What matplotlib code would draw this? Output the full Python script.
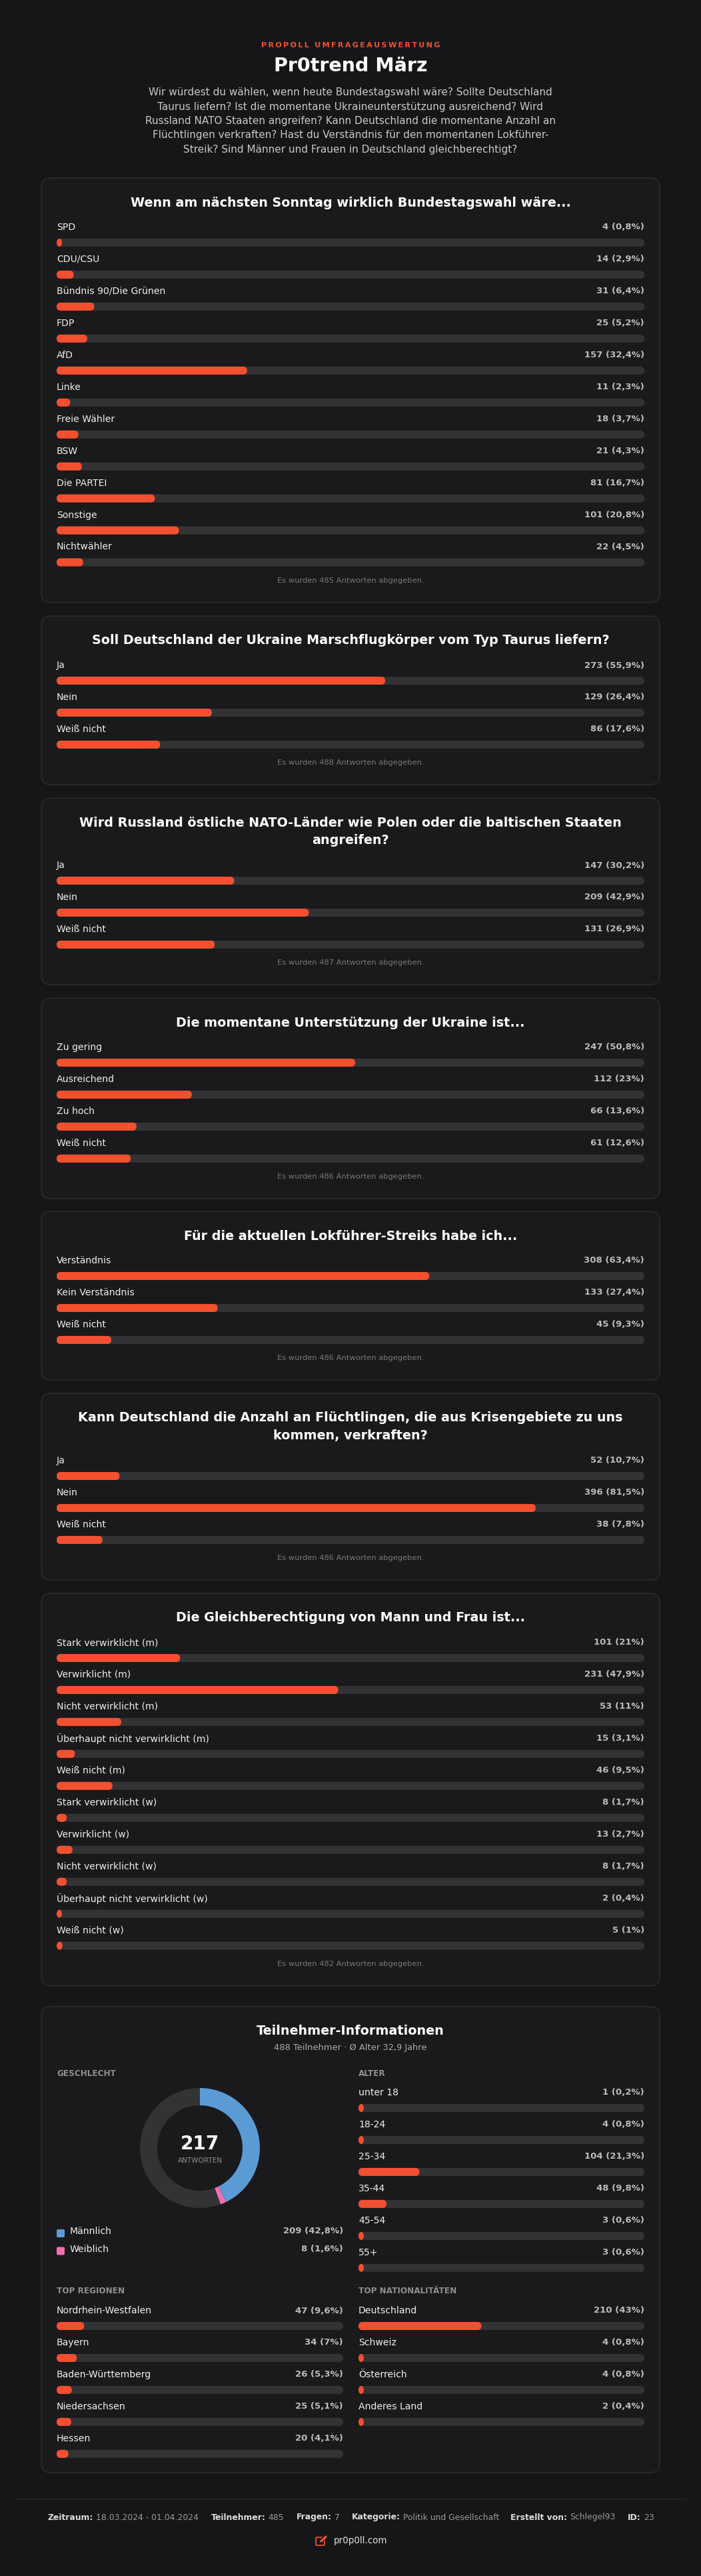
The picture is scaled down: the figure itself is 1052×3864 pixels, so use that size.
import matplotlib
matplotlib.use("Agg")
import matplotlib.pyplot as plt
from matplotlib.patches import Ellipse, FancyBboxPatch, Rectangle

W, H = 1052, 3864

PAGE_BG = "#161619"
CARD_BG = "#1a1a1c"
CARD_EDGE = "#2b2b2e"
TRACK = "#333336"
FILL = "#f4502f"
BLUE = "#5b9bd5"
PINK = "#ee6fae"
ROW = 47.95

# survey data
wahl_labels = ["SPD", "CDU/CSU", "Bündnis 90/Die Grünen", "FDP", "AfD", "Linke", "Freie Wähler", "BSW",
               "Die PARTEI", "Sonstige", "Nichtwähler"]
wahl_counts = [4, 14, 31, 25, 157, 11, 18, 21, 81, 101, 22]
wahl_pct = [0.8, 2.9, 6.4, 5.2, 32.4, 2.3, 3.7, 4.3, 16.7, 20.8, 4.5]

taurus_labels = ["Ja", "Nein", "Weiß nicht"]
taurus_counts = [273, 129, 86]
taurus_pct = [55.9, 26.4, 17.6]

russland_labels = ["Ja", "Nein", "Weiß nicht"]
russland_counts = [147, 209, 131]
russland_pct = [30.2, 42.9, 26.9]

hilfe_labels = ["Zu gering", "Ausreichend", "Zu hoch", "Weiß nicht"]
hilfe_counts = [247, 112, 66, 61]
hilfe_pct = [50.8, 23, 13.6, 12.6]

streik_labels = ["Verständnis", "Kein Verständnis", "Weiß nicht"]
streik_counts = [308, 133, 45]
streik_pct = [63.4, 27.4, 9.3]

flucht_labels = ["Ja", "Nein", "Weiß nicht"]
flucht_counts = [52, 396, 38]
flucht_pct = [10.7, 81.5, 7.8]

gleich_labels = ["Stark verwirklicht (m)", "Verwirklicht (m)", "Nicht verwirklicht (m)",
                 "Überhaupt nicht verwirklicht (m)", "Weiß nicht (m)", "Stark verwirklicht (w)",
                 "Verwirklicht (w)", "Nicht verwirklicht (w)", "Überhaupt nicht verwirklicht (w)",
                 "Weiß nicht (w)"]
gleich_counts = [101, 231, 53, 15, 46, 8, 13, 8, 2, 5]
gleich_pct = [21, 47.9, 11, 3.1, 9.5, 1.7, 2.7, 1.7, 0.4, 1]

gender_labels = ["Männlich", "Weiblich"]
gender_counts = [209, 8]
gender_pct = [42.8, 1.6]

age_labels = ["unter 18", "18-24", "25-34", "35-44", "45-54", "55+"]
age_counts = [1, 4, 104, 48, 3, 3]
age_pct = [0.2, 0.8, 21.3, 9.8, 0.6, 0.6]

region_labels = ["Nordrhein-Westfalen", "Bayern", "Baden-Württemberg", "Niedersachsen", "Hessen"]
region_counts = [47, 34, 26, 25, 20]
region_pct = [9.6, 7, 5.3, 5.1, 4.1]

nation_labels = ["Deutschland", "Schweiz", "Österreich", "Anderes Land"]
nation_counts = [210, 4, 4, 2]
nation_pct = [43, 0.8, 0.8, 0.4]

intro_lines = ["Wir würdest du wählen, wenn heute Bundestagswahl wäre? Sollte Deutschland",
               "Taurus liefern? Ist die momentane Ukraineunterstützung ausreichend? Wird",
               "Russland NATO Staaten angreifen? Kann Deutschland die momentane Anzahl an",
               "Flüchtlingen verkraften? Hast du Verständnis für den momentanen Lokführer-",
               "Streik? Sind Männer und Frauen in Deutschland gleichberechtigt?"]

footer_items = [("Zeitraum:", "18.03.2024 - 01.04.2024"), ("Teilnehmer:", "485"), ("Fragen:", "7"),
                ("Kategorie:", "Politik und Gesellschaft"), ("Erstellt von:", "Schlegel93"), ("ID:", "23")]
footer_x = [72, 317, 445, 528, 766, 942]


def px(size):
    return size * 0.72


def rounded(ax, x, y, w, h, r, color, edge="none", lw=0, z=1):
    r = min(r, w / 2, h / 2)
    patch = FancyBboxPatch((x + r, y + r), w - 2 * r, h - 2 * r, boxstyle=f"round,pad={r},rounding_size={r}",
                           fc=color, ec=edge, lw=lw, zorder=z)
    ax.add_patch(patch)


def value_text(count, pct):
    return f"{count} ({pct:g}%)".replace(".", ",")


def bar_rows(ax, labels, counts, pct, x0, x1, y0):
    # y0 is the centre of the first label
    for i, (lab, n, p) in enumerate(zip(labels, counts, pct)):
        y = y0 + i * ROW
        ax.text(x0, y, lab, color="#eeeeee", fontsize=px(14), ha="left", va="center")
        ax.text(x1, y, value_text(n, p), color="#bbbbbb", fontsize=px(13.2), fontweight="bold",
                ha="right", va="center")
        top = y + 17
        rounded(ax, x0, top, x1 - x0, 12, 6, TRACK, z=2)
        w = (x1 - x0) * p / 100
        if w < 12:
            # tiny fills show up as small ovals, never thinner than 8 px
            w = max(w, 8)
            ax.add_patch(Ellipse((x0 + w / 2, top + 6), w, 12, fc=FILL, ec="none", zorder=3))
        else:
            rounded(ax, x0, top, w, 12, 6, FILL, z=3)


def question_card(ax, top, title_lines, labels, counts, pct, answers):
    n_extra = len(title_lines) - 1
    height = 253 + 27 * n_extra + ROW * (len(labels) - 3)
    rounded(ax, 62, top, 928, height, 14, CARD_BG, CARD_EDGE, 1.2)
    for i, line in enumerate(title_lines):
        ax.text(526, top + 37 + i * 27, line, color="white", fontsize=px(19.2), fontweight="bold",
                ha="center", va="center")
    y0 = top + 74 + 27 * n_extra
    bar_rows(ax, labels, counts, pct, 85, 967, y0)
    note_y = y0 + ROW * (len(labels) - 1) + 50.5
    ax.text(526, note_y, f"Es wurden {answers} Antworten abgegeben.", color="#77777a", fontsize=px(11.5),
            ha="center", va="center")


fig = plt.figure(figsize=(W / 100, H / 100), dpi=100, facecolor=PAGE_BG)
ax = fig.add_axes([0, 0, 1, 1])
ax.set_xlim(0, W)
ax.set_ylim(H, 0)
ax.axis("off")

# header
eyebrow = "\u2009".join("PROPOLL UMFRAGEAUSWERTUNG")
ax.text(526, 68, eyebrow, color=FILL, fontsize=px(11.3), fontweight="bold", ha="center", va="center")
ax.text(526, 99, "Pr0trend März", color="white", fontsize=px(28.5), fontweight="bold", ha="center", va="center")
for i, line in enumerate(intro_lines):
    ax.text(526, 139 + i * 21.25, line, color="#c8c8c8", fontsize=px(15.2), ha="center", va="center")

# question cards
question_card(ax, 267, ["Wenn am nächsten Sonntag wirklich Bundestagswahl wäre..."],
              wahl_labels, wahl_counts, wahl_pct, 485)
question_card(ax, 924, ["Soll Deutschland der Ukraine Marschflugkörper vom Typ Taurus liefern?"],
              taurus_labels, taurus_counts, taurus_pct, 488)
question_card(ax, 1197, ["Wird Russland östliche NATO-Länder wie Polen oder die baltischen Staaten", "angreifen?"],
              russland_labels, russland_counts, russland_pct, 487)
question_card(ax, 1497, ["Die momentane Unterstützung der Ukraine ist..."],
              hilfe_labels, hilfe_counts, hilfe_pct, 486)
question_card(ax, 1817, ["Für die aktuellen Lokführer-Streiks habe ich..."],
              streik_labels, streik_counts, streik_pct, 486)
question_card(ax, 2090, ["Kann Deutschland die Anzahl an Flüchtlingen, die aus Krisengebiete zu uns", "kommen, verkraften?"],
              flucht_labels, flucht_counts, flucht_pct, 486)
question_card(ax, 2390, ["Die Gleichberechtigung von Mann und Frau ist..."],
              gleich_labels, gleich_counts, gleich_pct, 482)

# participant card
rounded(ax, 62, 3010, 928, 699, 14, CARD_BG, CARD_EDGE, 1.2)
ax.text(526, 3047, "Teilnehmer-Informationen", color="white", fontsize=px(19.2), fontweight="bold",
        ha="center", va="center")
ax.text(526, 3072, "488 Teilnehmer · Ø Alter 32,9 Jahre", color="#aaaaaa", fontsize=px(13), ha="center", va="center")

for x, y, head in [(85, 3110, "GESCHLECHT"), (538, 3110, "ALTER"), (85, 3437, "TOP REGIONEN"),
                   (538, 3437, "TOP NATIONALITÄTEN")]:
    ax.text(x, y, head, color="#8f8f8f", fontsize=px(12), fontweight="bold", ha="left", va="center")

bar_rows(ax, age_labels, age_counts, age_pct, 538, 967, 3139)
bar_rows(ax, region_labels, region_counts, region_pct, 85, 515, 3466)
bar_rows(ax, nation_labels, nation_counts, nation_pct, 538, 967, 3466)

# donut, rest of the ring is the unanswered share
rest = 100 - sum(gender_pct)
pie_ax = fig.add_axes([(300 - 90) / W, 1 - (3222 + 90) / H, 180 / W, 180 / H])
pie_ax.pie(gender_pct + [rest], colors=[BLUE, PINK, TRACK], startangle=90, counterclock=False, radius=1,
           wedgeprops={"width": 26 / 90})
pie_ax.set_xlim(-1, 1)
pie_ax.set_ylim(-1, 1)
ax.text(300, 3216, "217", color="white", fontsize=px(28), fontweight="bold", ha="center", va="center")
ax.text(300, 3241, "ANTWORTEN", color="#8f8f8f", fontsize=px(10.5), ha="center", va="center")

for i, (lab, n, p, col) in enumerate(zip(gender_labels, gender_counts, gender_pct, [BLUE, PINK])):
    y = 3347 + i * 26.5
    rounded(ax, 85, y - 3, 12, 12, 2, col)
    ax.text(105, y, lab, color="#eeeeee", fontsize=px(14), ha="left", va="center")
    ax.text(515, y, value_text(n, p), color="#bbbbbb", fontsize=px(13.2), fontweight="bold", ha="right", va="center")

# footer
ax.add_patch(Rectangle((23, 3747.5), 1006, 1, fc="#2b2b2e", ec="none"))
renderer = fig.canvas.get_renderer()
for x, (key, val) in zip(footer_x, footer_items):
    t = ax.text(x, 3776, key, color="#dddddd", fontsize=px(12.4), fontweight="bold", ha="left", va="center")
    end = t.get_window_extent(renderer).x1
    ax.text(end + 4, 3776, val, color="#999999", fontsize=px(12.4), ha="left", va="center")

ax.text(501, 3811, "pr0p0ll.com", color="#dddddd", fontsize=px(13.5), ha="left", va="center")
rounded(ax, 474, 3806, 13, 12, 2, "none", FILL, 1.3)
ax.plot([480, 489], [3813, 3805], color=PAGE_BG, lw=4.5, solid_capstyle="round")
ax.plot([482, 489], [3812, 3805], color=FILL, lw=2.4, solid_capstyle="round")

fig.savefig("out.png", dpi=100, facecolor=PAGE_BG)
